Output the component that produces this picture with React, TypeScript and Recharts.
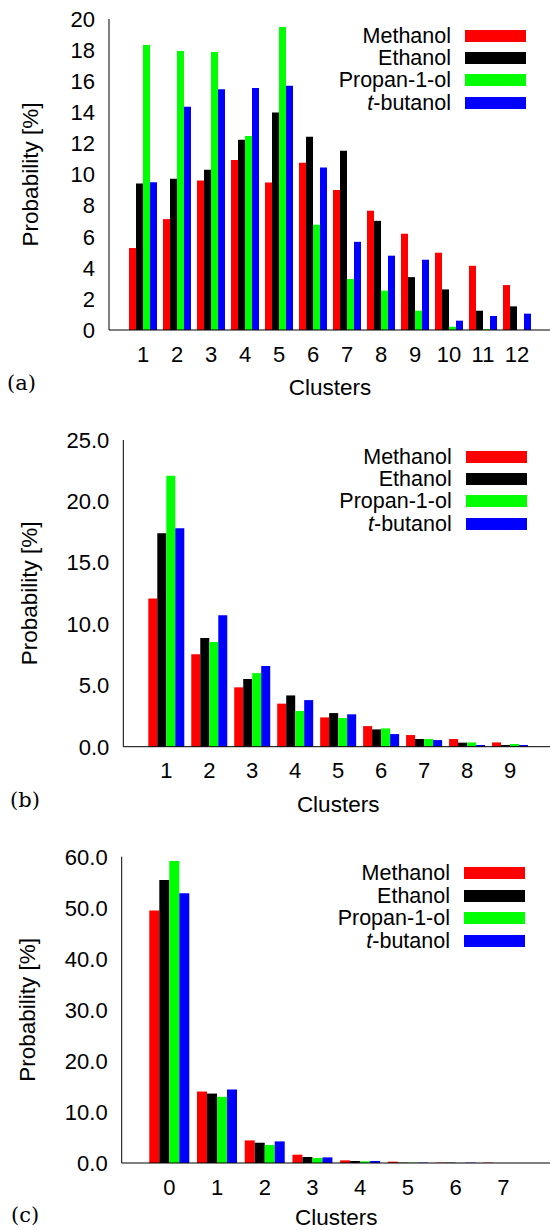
import { Bar, BarChart, Legend, XAxis, YAxis } from "recharts"

const FONT = '"Liberation Sans", Arial, Helvetica, sans-serif'

const seriesNames = ["Methanol", "Ethanol", "Propan-1-ol", "t-butanol"]
const seriesColors = ["#ff0000", "#000000", "#00ff00", "#0000ff"]

// panel (a)
const clustersA = ["1", "2", "3", "4", "5", "6", "7", "8", "9", "10", "11", "12"]
const methanolA = [5.27, 7.13, 9.61, 10.94, 9.49, 10.75, 9.01, 7.67, 6.19, 4.97, 4.13, 2.89]
const ethanolA = [9.42, 9.72, 10.3, 12.23, 13.98, 12.42, 11.52, 7.02, 3.4, 2.61, 1.24, 1.52]
const propanolA = [18.33, 17.94, 17.88, 12.48, 19.49, 6.77, 3.28, 2.53, 1.24, 0.21, 0.06, 0]
const butanolA = [9.5, 14.35, 15.48, 15.57, 15.7, 10.45, 5.67, 4.78, 4.52, 0.6, 0.9, 1.05]
const ticksA = [0, 2, 4, 6, 8, 10, 12, 14, 16, 18, 20]

// panel (b)
const clustersB = ["1", "2", "3", "4", "5", "6", "7", "8", "9"]
const methanolB = [12.09, 7.53, 4.84, 3.51, 2.39, 1.68, 0.95, 0.63, 0.35]
const ethanolB = [17.39, 8.86, 5.52, 4.18, 2.74, 1.41, 0.63, 0.33, 0.14]
const propanolB = [22.09, 8.53, 6.0, 2.91, 2.34, 1.49, 0.63, 0.35, 0.22]
const butanolB = [17.8, 10.71, 6.58, 3.8, 2.64, 1.03, 0.54, 0.14, 0.14]
const ticksB = [0, 5, 10, 15, 20, 25]

// panel (c)
const clustersC = ["0", "1", "2", "3", "4", "5", "6", "7"]
const methanolC = [49.45, 14.0, 4.43, 1.63, 0.52, 0.26, 0.07, 0.07]
const ethanolC = [55.44, 13.6, 3.97, 1.17, 0.39, 0.07, 0.07, 0]
const propanolC = [59.15, 12.96, 3.52, 0.98, 0.33, 0.07, 0.02, 0]
const butanolC = [52.83, 14.4, 4.23, 1.1, 0.39, 0.07, 0.07, 0]
const ticksC = [0, 10, 20, 30, 40, 50, 60]

function LegendBox({ payload }: any) {
  return (
    <div style={{ fontFamily: FONT, fontSize: 21.5, color: "#000" }}>
      {(payload ?? []).map((p: any) => (
        <div key={p.value} style={{ display: "flex", alignItems: "center", height: 22.4 }}>
          <span style={{ width: 150, textAlign: "right", whiteSpace: "nowrap", lineHeight: "20px" }}>
            {p.value === "t-butanol" ? (
              <>
                <i>t</i>-butanol
              </>
            ) : (
              p.value
            )}
          </span>
          <span style={{ width: 61, height: 12, marginLeft: 14, background: p.color }} />
        </div>
      ))}
    </div>
  )
}

interface PanelProps {
  top: number
  clusters: string[]
  values: number[][]
  ticks: number[]
  fmt: (v: number) => string
  plotLeft: number
  plotRight: number
  plotTop: number
  plotBottom: number
  pad: number
  catGap: number
  legendLeft: number
  legendTop: number
  ylabelX: number
  xlabelDy: number
}

function Panel(p: PanelProps) {
  const height = 400
  const axisW = 60
  const xAxisH = 70
  const width = p.plotRight + 5
  const yMax = p.ticks[p.ticks.length - 1]
  const data = p.clusters.map((c, i) => {
    const row: any = { cluster: c }
    p.values.forEach((v, k) => (row[`s${k}`] = v[i]))
    return row
  })
  const midY = (p.plotTop + p.plotBottom) / 2
  const midX = (p.plotLeft + p.plotRight) / 2
  const tickStyle = { fontSize: 22, fill: "#000", fontFamily: FONT }

  return (
    <div style={{ position: "absolute", left: 0, top: p.top }}>
      <BarChart
        width={width}
        height={height}
        data={data}
        margin={{ top: p.plotTop, left: p.plotLeft - axisW, right: 5, bottom: height - xAxisH - p.plotBottom }}
        barCategoryGap={p.catGap}
        barGap={0}
      >
        <XAxis
          dataKey="cluster"
          height={xAxisH}
          padding={{ left: p.pad, right: p.pad }}
          interval={0}
          tickLine={false}
          tickSize={0}
          tickMargin={16}
          tick={tickStyle}
          axisLine={{ stroke: "#000" }}
          label={{
            content: () => (
              <text x={midX} y={p.plotBottom + p.xlabelDy} textAnchor="middle" fontSize={22.5} fontFamily={FONT} fill="#000">
                Clusters
              </text>
            ),
          }}
        />
        <XAxis xAxisId="top" dataKey="cluster" orientation="top" height={0} tick={false} tickLine={false} axisLine={{ stroke: "#000" }} />
        <YAxis
          type="number"
          domain={[0, yMax]}
          ticks={p.ticks}
          width={axisW}
          interval={0}
          tickLine={false}
          tickSize={0}
          tickMargin={14}
          tick={tickStyle}
          tickFormatter={p.fmt}
          axisLine={{ stroke: "#000" }}
          label={{
            content: () => (
              <text
                x={p.ylabelX}
                y={midY}
                transform={`rotate(-90 ${p.ylabelX} ${midY})`}
                textAnchor="middle"
                fontSize={22.5}
                fontFamily={FONT}
                fill="#000"
              >
                Probability [%]
              </text>
            ),
          }}
        />
        <YAxis yAxisId="lt" type="number" domain={[0, yMax]} ticks={p.ticks} mirror width={0} tick={false} tickSize={4} tickLine={{ stroke: "#000" }} axisLine={false} />
        <YAxis yAxisId="rt" orientation="right" type="number" domain={[0, yMax]} ticks={p.ticks} mirror width={0} tick={false} tickSize={4} tickLine={{ stroke: "#000" }} axisLine={{ stroke: "#000" }} />
        <Legend
          layout="horizontal"
          verticalAlign="middle"
          align="center"
          itemSorter="dataKey"
          content={<LegendBox />}
          wrapperStyle={{ left: p.legendLeft, top: p.legendTop, width: 240, height: "auto" }}
        />
        {seriesNames.map((name, k) => (
          <Bar key={name} dataKey={`s${k}`} name={name} fill={seriesColors[k]} isAnimationActive={false} />
        ))}
      </BarChart>
    </div>
  )
}

const intFmt = (v: number) => `${v}`
const oneDec = (v: number) => v.toFixed(1)

export default function App() {
  return (
    <div style={{ position: "absolute", left: 0, top: 0, width: 550, height: 1230, overflow: "hidden", background: "#fff" }}>
      <Panel
        top={0}
        clusters={clustersA}
        values={[methanolA, ethanolA, propanolA, butanolA]}
        ticks={ticksA}
        fmt={intFmt}
        plotLeft={109}
        plotRight={551}
        plotTop={19}
        plotBottom={330}
        pad={17}
        catGap={3}
        legendLeft={301}
        legendTop={24.5}
        ylabelX={38}
        xlabelDy={65}
      />
      <Panel
        top={420}
        clusters={clustersB}
        values={[methanolB, ethanolB, propanolB, butanolB]}
        ticks={ticksB}
        fmt={oneDec}
        plotLeft={123.3}
        plotRight={553}
        plotTop={20}
        plotBottom={326.7}
        pad={21.5}
        catGap={3.5}
        legendLeft={301.7}
        legendTop={25.5}
        ylabelX={37}
        xlabelDy={65}
      />
      <Panel
        top={840}
        clusters={clustersC}
        values={[methanolC, ethanolC, propanolC, butanolC]}
        ticks={ticksC}
        fmt={oneDec}
        plotLeft={121.7}
        plotRight={551}
        plotTop={16.7}
        plotBottom={323}
        pad={23.8}
        catGap={3.8}
        legendLeft={300}
        legendTop={22.2}
        ylabelX={35.5}
        xlabelDy={62}
      />
      <svg width={550} height={1230} style={{ position: "absolute", left: 0, top: 0, pointerEvents: "none" }}>
        <text x={7} y={390} fontFamily='"DejaVu Serif", serif' fontSize={21} fill="#000">(a)</text>
        <text x={10} y={807} fontFamily='"DejaVu Serif", serif' fontSize={21} fill="#000">(b)</text>
        <text x={11} y={1222} fontFamily='"DejaVu Serif", serif' fontSize={21} fill="#000">(c)</text>
      </svg>
    </div>
  )
}
